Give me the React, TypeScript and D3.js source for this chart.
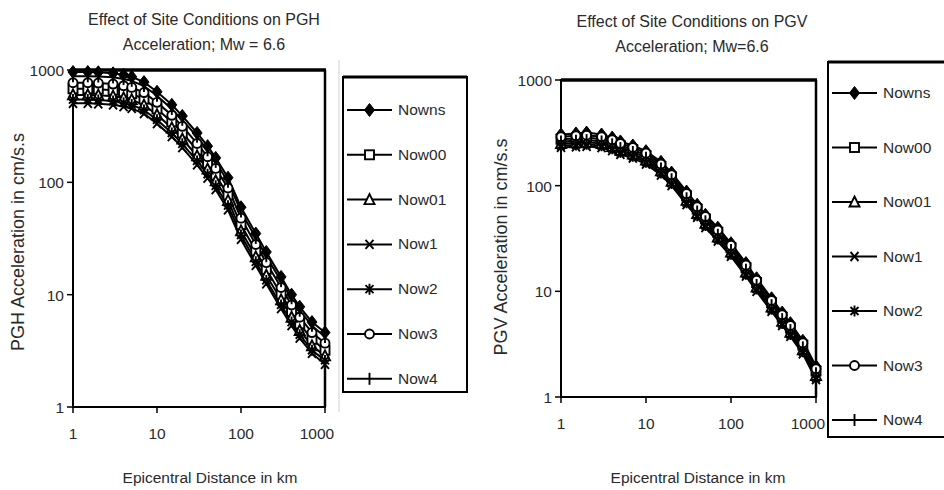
import React from 'react';
import * as d3 from 'd3';

const distances = [1, 1.5, 2, 3, 4, 5, 7, 10, 15, 20, 30, 40, 50, 70, 100, 150, 200, 300, 400, 500, 700, 1000];
const seriesNames = ['Nowns', 'Now00', 'Now01', 'Now1', 'Now2', 'Now3', 'Now4'];
const xTicks = [1, 10, 100, 1000];
const yTicks = [1, 10, 100, 1000];

// PGH (left chart)
const pghNowns = [960, 960, 955, 935, 905, 870, 780, 640, 490, 390, 275, 210, 165, 110, 60, 35, 24, 14.4, 10, 7.8, 5.7, 4.6];
const pghNow00 = [680, 680, 675, 660, 640, 615, 550, 450, 345, 275, 194, 148, 116, 77, 42, 24.5, 16.8, 10.1, 7.1, 5.5, 4.0, 3.2];
const pghNow01 = [600, 600, 597, 585, 565, 545, 487, 400, 305, 243, 172, 131, 103, 69, 37, 21.7, 14.9, 9, 6.3, 4.8, 3.5, 2.85];
const pghNow1 = [505, 505, 500, 490, 473, 455, 408, 333, 255, 204, 143, 109, 86, 57, 31, 18.2, 12.5, 7.5, 5.3, 4.1, 3.0, 2.4];
const pghNow2 = [545, 545, 540, 530, 510, 492, 440, 360, 275, 220, 155, 118, 93, 62, 34, 19.6, 13.4, 8.1, 5.7, 4.4, 3.2, 2.6];
const pghNow3 = [770, 770, 765, 750, 725, 700, 630, 515, 395, 315, 222, 169, 133, 89, 48, 28, 19.3, 11.6, 8.1, 6.3, 4.6, 3.7];
const pghNow4 = [880, 880, 875, 860, 830, 800, 720, 590, 450, 360, 255, 193, 152, 101, 55, 32, 22, 13.2, 9.3, 7.2, 5.3, 4.2];

// PGV (right chart)
const pgvNowns = [305, 312, 318, 305, 285, 262, 240, 212, 168, 133, 88, 66, 53, 40, 28.5, 18.5, 13.3, 8.6, 6.3, 5.0, 3.4, 1.95];
const pgvNow00 = [275, 280, 285, 275, 258, 238, 219, 193, 152, 121, 80, 60, 48.5, 36, 25.9, 16.8, 12.1, 7.8, 5.7, 4.5, 3.1, 1.76];
const pgvNow01 = [250, 254, 258, 250, 235, 216, 199, 175, 138, 110, 72.5, 54.5, 44, 32.7, 23.5, 15.2, 11.0, 7.1, 5.2, 4.1, 2.8, 1.6];
const pgvNow1 = [230, 233, 236, 229, 215, 198, 182, 160, 126, 100, 66, 50, 40, 29.8, 21.4, 13.9, 10.0, 6.45, 4.75, 3.75, 2.56, 1.46];
const pgvNow2 = [240, 243, 246, 239, 224, 207, 190, 167, 132, 105, 69, 52, 42, 31.2, 22.4, 14.5, 10.5, 6.75, 4.95, 3.9, 2.68, 1.52];
const pgvNow3 = [290, 296, 300, 290, 272, 250, 230, 203, 160, 127, 84, 63, 51, 38, 27.2, 17.7, 12.7, 8.2, 6.0, 4.75, 3.25, 1.85];
const pgvNow4 = [262, 266, 270, 262, 246, 227, 208, 184, 145, 115, 76, 57, 46, 34.3, 24.6, 16.0, 11.5, 7.4, 5.45, 4.3, 2.95, 1.68];

const pghSeries = [pghNowns, pghNow00, pghNow01, pghNow1, pghNow2, pghNow3, pghNow4];
const pgvSeries = [pgvNowns, pgvNow00, pgvNow01, pgvNow1, pgvNow2, pgvNow3, pgvNow4];

const FONT = '"Liberation Sans", Arial, sans-serif';
const TXT = '#2a2a2a';

function Marker({ name, x, y }: { name: string; x: number; y: number }) {
  const s = 5;
  const sw = 1.9;
  switch (name) {
    case 'Nowns':
      return <path d={`M${x},${y - s - 1.5}L${x + s},${y}L${x},${y + s + 1.5}L${x - s},${y}Z`} fill="#000" stroke="#000" strokeWidth={1} />;
    case 'Now00':
      return <rect x={x - 4.5} y={y - 4.5} width={9} height={9} fill="#fff" stroke="#000" strokeWidth={sw} />;
    case 'Now01':
      return <path d={`M${x},${y - 5.5}L${x + 5},${y + 4.5}L${x - 5},${y + 4.5}Z`} fill="#fff" stroke="#000" strokeWidth={sw} />;
    case 'Now1':
      return <path d={`M${x - 4},${y - 4.5}L${x + 4},${y + 4.5}M${x + 4},${y - 4.5}L${x - 4},${y + 4.5}`} stroke="#000" strokeWidth={sw} fill="none" />;
    case 'Now2':
      return <path d={`M${x - 4},${y - 4}L${x + 4},${y + 4}M${x + 4},${y - 4}L${x - 4},${y + 4}M${x},${y - 5.5}L${x},${y + 5.5}`} stroke="#000" strokeWidth={sw} fill="none" />;
    case 'Now3':
      return <circle cx={x} cy={y} r={4.5} fill="#fff" stroke="#000" strokeWidth={sw} />;
    default:
      return <path d={`M${x},${y - 6}L${x},${y + 6}`} stroke="#000" strokeWidth={sw} />;
  }
}

type PanelProps = {
  series: number[][];
  x0: number; x1: number; y0: number; y1: number;
  title1: string; title2: string; titleX: number; titleY: number;
  yLabel: string; yLabelX: number; yLabelY: number;
  xLabelX: number; xLabelY: number;
  legend: { x0: number; y0: number; x1: number; y1: number; first: number; step: number };
  grayLine?: number;
};

function Panel(p: PanelProps) {
  const xs = d3.scaleLog().domain([1, 1000]).range([p.x0, p.x1]);
  const ys = d3.scaleLog().domain([1, 1000]).range([p.y1, p.y0]);
  const line = d3.line<number>().x((_, i) => xs(distances[i])).y((d) => ys(d));
  const lx0 = p.legend.x0 + 4;
  const lx1 = p.legend.x0 + 49;
  const lmx = (lx0 + lx1) / 2;
  return (
    <g fontFamily={FONT} fill={TXT}>
      <text x={p.titleX} y={p.titleY} textAnchor="middle" fontSize={16}>{p.title1}</text>
      <text x={p.titleX} y={p.titleY + 25} textAnchor="middle" fontSize={16}>{p.title2}</text>
      <text transform={`translate(${p.yLabelX},${p.yLabelY}) rotate(-90)`} textAnchor="middle" fontSize={18}>{p.yLabel}</text>
      <text x={p.xLabelX} y={p.xLabelY} textAnchor="middle" fontSize={15.5}>Epicentral Distance in km</text>
      {/* frame */}
      <rect x={p.x0} y={p.y0} width={p.x1 - p.x0} height={p.y1 - p.y0} fill="#fff" stroke="#000" strokeWidth={2} />
      <line x1={p.x0} x2={p.x1 + 1} y1={p.y0} y2={p.y0} stroke="#000" strokeWidth={3.5} />
      <line x1={p.x1} x2={p.x1} y1={p.y0} y2={p.y1} stroke="#000" strokeWidth={2.5} />
      {yTicks.map((t) => (
        <g key={'y' + t}>
          <line x1={p.x0 - 6} x2={p.x0} y1={ys(t)} y2={ys(t)} stroke="#000" strokeWidth={1.5} />
          <text x={p.x0 - 9} y={ys(t) + 6} textAnchor="end" fontSize={15.5}>{t}</text>
        </g>
      ))}
      {p.series.map((s, k) => (
        <path key={'l' + k} d={line(s) || ''} fill="none" stroke="#000" strokeWidth={2} />
      ))}
      {p.series.map((s, k) => (
        <g key={'m' + k}>
          {s.map((v, i) => <Marker key={i} name={seriesNames[k]} x={xs(distances[i])} y={ys(v)} />)}
        </g>
      ))}
      {/* legend */}
      <rect x={p.legend.x0} y={p.legend.y0} width={p.legend.x1 - p.legend.x0} height={p.legend.y1 - p.legend.y0} fill="#fff" stroke="#000" strokeWidth={2} />
      <line x1={p.legend.x0} x2={p.legend.x1} y1={p.legend.y0} y2={p.legend.y0} stroke="#000" strokeWidth={3} />
      {seriesNames.map((n, i) => {
        const y = p.legend.first + i * p.legend.step;
        return (
          <g key={n}>
            <line x1={lx0} x2={lx1} y1={y} y2={y} stroke="#000" strokeWidth={2} />
            <Marker name={n} x={lmx} y={y} />
            <text x={lx1 + 6} y={y + 5} fontSize={15.5}>{n}</text>
          </g>
        );
      })}
      {xTicks.map((t, i) => (
        <g key={'x' + t}>
          <line x1={xs(t)} x2={xs(t)} y1={p.y1} y2={p.y1 + 6} stroke="#000" strokeWidth={1.5} />
          <text x={xs(t) - (i === xTicks.length - 1 ? 8 : 0)} y={p.y1 + 32} textAnchor="middle" fontSize={15.5}>{t}</text>
        </g>
      ))}
      {p.grayLine !== undefined && (
        <line x1={p.grayLine} x2={p.grayLine} y1={60} y2={412} stroke="#cfcfcf" strokeWidth={1} />
      )}
    </g>
  );
}

export default function App() {
  return (
    <svg width={944} height={490} style={{ position: 'absolute', left: 0, top: 0, background: '#fff' }}>
      <rect width={944} height={490} fill="#fff" />
      <Panel
        series={pghSeries}
        x0={73} x1={325} y0={70} y1={407}
        title1="Effect of Site Conditions on PGH" title2="Acceleration; Mw = 6.6" titleX={204} titleY={25}
        yLabel="PGH Acceleration in cm/s.s" yLabelX={24} yLabelY={242}
        xLabelX={210} xLabelY={483}
        legend={{ x0: 343, y0: 77, x1: 467, y1: 392, first: 110, step: 44.8 }}
        grayLine={339}
      />
      <Panel
        series={pgvSeries}
        x0={561} x1={816} y0={80} y1={397}
        title1="Effect of Site Conditions on PGV" title2="Acceleration; Mw=6.6" titleX={692} titleY={27}
        yLabel="PGV Acceleration in cm/s.s" yLabelX={507} yLabelY={247}
        xLabelX={698} xLabelY={483}
        legend={{ x0: 828, y0: 62, x1: 960, y1: 437, first: 93, step: 54.5 }}
      />
    </svg>
  );
}
